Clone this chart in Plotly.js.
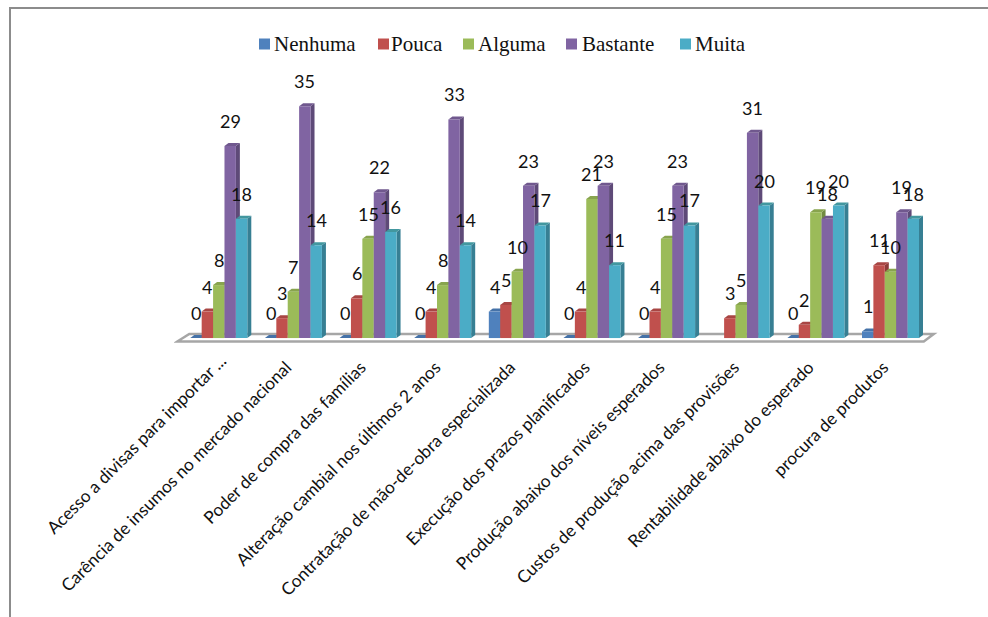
<!DOCTYPE html>
<html lang="pt">
<head>
<meta charset="utf-8">
<title>Obstáculos à produção</title>
<script src="https://cdn.plot.ly/plotly-3.0.1.min.js"></script>
<style>html,body{margin:0;padding:0;background:#fff}#chart{width:988px;height:617px}</style>
</head>
<body>
<div id="chart"></div>
<script>
const categories = [
  "Acesso a divisas para importar ...",
  "Carência de insumos no mercado nacional",
  "Poder de compra das famílias",
  "Alteração cambial nos últimos 2 anos",
  "Contratação de mão-de-obra especializada",
  "Execução dos prazos planificados",
  "Produção abaixo dos níveis esperados",
  "Custos de produção acima das provisões",
  "Rentabilidade abaixo do esperado",
  "procura de produtos"
];
const nenhuma  = [0, 0, 0, 0, 4, 0, 0, null, 0, 1];
const pouca    = [4, 3, 6, 4, 5, 4, 4, 3, 2, 11];
const alguma   = [8, 7, 15, 8, 10, 21, 15, 5, 19, 10];
const bastante = [29, 35, 22, 33, 23, 23, 23, 31, 18, 19];
const muita    = [18, 14, 16, 14, 17, 11, 17, 20, 20, 18];

const seriesNames = ["Nenhuma", "Pouca", "Alguma", "Bastante", "Muita"];
const seriesValues = [nenhuma, pouca, alguma, bastante, muita];
const faceColors = ["#4F81BD", "#C0504D", "#9BBB59", "#8064A2", "#4BACC6"];
const sideColors = ["#3A5F8C", "#8E3B39", "#728A41", "#5E4A78", "#377F93"];
const topColors  = ["#4572A8", "#A84644", "#88A44E", "#70588E", "#42979F"];
const legendSwatchX = [259, 378, 463, 566, 680];
const legendTextX   = [274, 391, 478, 582, 695];

const WIDTH = 988, HEIGHT = 617;
const margin = {l: 174, r: 49, t: 40, b: 269};
const plotW = WIDTH - margin.l - margin.r;
const plotH = HEIGHT - margin.t - margin.b;
const xRange = [-0.6, 9.65];
const yRange = [-1.5, 45];
const pxPerUnit = plotH / (yRange[1] - yRange[0]);
const pxPerCategory = plotW / (xRange[1] - xRange[0]);
const paperX = px => (px - margin.l) / plotW;
const paperY = px => 1 - (px - margin.t) / plotH;

const BARGAP = 0.236;
const barUnits = (1 - BARGAP) / seriesNames.length;
const barPx = barUnits * pxPerCategory;
const DEPTH_X = 4, DEPTH_Y = 3;
const labelFont = "Lato, 'Open Sans', sans-serif";
const categoryFont = {family: labelFont, size: 17.3, color: "#111"};

// Each bar gets a darker right side and top, anchored to its value in pixel units.
// They sit beneath the traces, so a neighbouring bar hides whatever it overlaps.
function depthFaces(position, value, s) {
  const half = barPx / 2, drop = value * pxPerUnit;
  const common = {
    type: "path", layer: "below", xref: "x", yref: "y",
    xsizemode: "pixel", ysizemode: "pixel",
    xanchor: position, yanchor: value, line: {width: 0}
  };
  return [
    Object.assign({}, common, {
      path: `M${half},0 L${half + DEPTH_X},${DEPTH_Y} L${half + DEPTH_X},${DEPTH_Y - drop} L${half},${-drop} Z`,
      fillcolor: sideColors[s]
    }),
    Object.assign({}, common, {
      path: `M${-half},0 L${-half + DEPTH_X},${DEPTH_Y} L${half + DEPTH_X},${DEPTH_Y} L${half},0 Z`,
      fillcolor: topColors[s]
    })
  ];
}

const traces = seriesNames.map((name, s) => ({
  type: "bar",
  name: name,
  x: categories,
  y: seriesValues[s],
  marker: {color: faceColors[s], line: {width: 0}},
  hoverinfo: "x+y+name"
}));

const shapes = [
  // floor slab under the bars
  {
    type: "path", layer: "below", xref: "x", yref: "y",
    xsizemode: "pixel", ysizemode: "pixel", xanchor: 0, yanchor: 0,
    path: "M-41.5,-3.5 L-29.5,4 L715,4 L705,-3.5 Z",
    fillcolor: "#ffffff", line: {color: "#a6a6a6", width: 2.5}
  },
  // outer frame, open on the right and at the bottom
  {type: "line", xref: "paper", yref: "paper", layer: "below",
   x0: paperX(9), x1: paperX(988), y0: paperY(8), y1: paperY(8),
   line: {color: "#8c8c8c", width: 2}},
  {type: "line", xref: "paper", yref: "paper", layer: "below",
   x0: paperX(10), x1: paperX(10), y0: paperY(8), y1: paperY(617),
   line: {color: "#8c8c8c", width: 2}}
];

// The truncated first category sits further along its slope than the others.
const annotations = [{
  xref: "x", yref: "paper", x: 0, xshift: 15, y: paperY(347),
  xanchor: "right", yanchor: "top", textangle: -45, showarrow: false,
  text: categories[0], font: categoryFont
}];

seriesNames.forEach((name, s) => {
  seriesValues[s].forEach((value, i) => {
    if (value === null) return;
    const position = i + (s - 2) * barUnits;
    shapes.push(...depthFaces(position, value, s));
    annotations.push({
      x: position, y: value, xref: "x", yref: "y",
      text: String(value), showarrow: false, yshift: 25,
      font: {family: labelFont, size: 18, color: "#111"}
    });
  });
  // legend row
  shapes.push({
    type: "rect", xref: "paper", yref: "paper", layer: "above",
    x0: paperX(legendSwatchX[s]), x1: paperX(legendSwatchX[s] + 11),
    y0: paperY(49.5), y1: paperY(38.5),
    fillcolor: faceColors[s], line: {width: 0}
  });
  annotations.push({
    xref: "paper", yref: "paper", x: paperX(legendTextX[s] - 2), y: paperY(44),
    xanchor: "left", yanchor: "middle", showarrow: false, text: name,
    font: {family: "'Liberation Serif', serif", size: 21, color: "#111"}
  });
});

const layout = {
  width: WIDTH, height: HEIGHT,
  margin: margin,
  paper_bgcolor: "#ffffff", plot_bgcolor: "#ffffff",
  barmode: "group", bargap: BARGAP, bargroupgap: 0,
  showlegend: false,
  xaxis: {
    type: "category", range: xRange, showgrid: false, zeroline: false,
    showline: false, ticks: "", tickangle: -45, automargin: false,
    tickmode: "array", tickvals: categories.slice(1), ticktext: categories.slice(1),
    ticklabelshift: -7, ticklabelstandoff: 5,
    tickfont: categoryFont
  },
  yaxis: {
    range: yRange, showgrid: false, zeroline: false, showline: false,
    showticklabels: false, ticks: "", automargin: false
  },
  shapes: shapes,
  annotations: annotations
};

Plotly.newPlot("chart", traces, layout, {displayModeBar: false, staticPlot: true});
</script>
</body>
</html>
